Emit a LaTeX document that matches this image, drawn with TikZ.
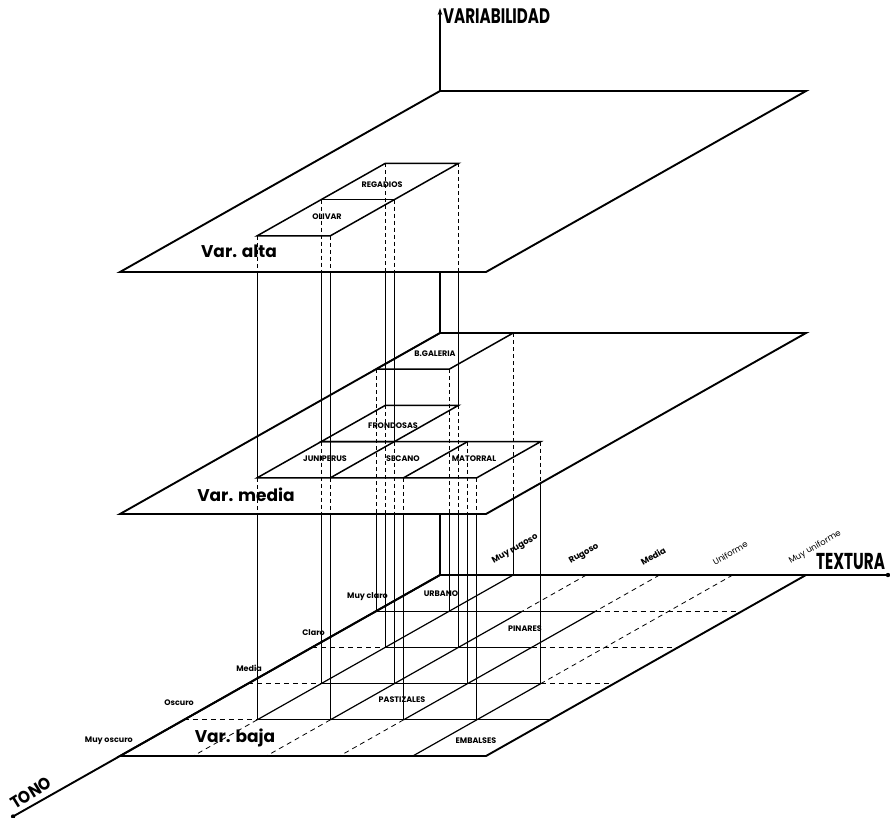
\documentclass[tikz,border=0pt]{standalone}
\usepackage{fontspec}
\usepackage{graphicx}
\setmainfont{Poppins}
\usetikzlibrary{arrows.meta}
\begin{document}
\begin{tikzpicture}[
  x={(73.2pt,0pt)}, y={(-64pt,-36.2pt)}, z={(0pt,242pt)},
  planeline/.style={line width=1.9pt, line join=miter},
  faceline/.style={line width=1.5pt, line join=miter},
  axisline/.style={line width=1.9pt},
  vis/.style={line width=0.75pt},
  hid/.style={line width=0.75pt, dash pattern=on 4pt off 3pt},
  gsolid/.style={line width=1.2pt},
  gdash/.style={line width=0.8pt, dash pattern=on 5pt off 4pt},
  cls/.style={font=\fontsize{8}{9}\selectfont\bfseries, inner sep=0pt},
  tonelbl/.style={font=\fontsize{8}{9}\selectfont\bfseries, inner sep=0pt, anchor=east},
  texlbl/.style={font=\fontsize{8.5}{9}\selectfont, inner sep=0pt, anchor=south west, rotate=30},
  varlbl/.style={font=\fontsize{17}{18}\selectfont\bfseries, inner sep=0pt},
]
\useasboundingbox (-440pt,-242pt) rectangle (450pt,575pt);

% grid coordinates p<level><texture><tone>
\foreach \l in {0,1,2}{\foreach \t in {0,...,5}{\foreach \o in {0,...,5}{\coordinate (p\l\t\o) at (\t,\o,\l);}}}

% planes
\foreach \l in {0,1,2}{\draw[planeline] (p\l00) -- (p\l50) -- (p\l55) -- (p\l05) -- cycle;}

% axes
\coordinate (texend) at (6.12,0,0);
\coordinate (toneend) at (0,6.67,0);
\coordinate (varend) at (0,0,2.343);
\draw[axisline] (p000) -- (texend);
\fill (texend) circle (2.2pt);
\draw[axisline] (p000) -- (toneend);
\fill (toneend) circle (2.2pt);
\coordinate (ax1) at (0,0,0.252);
\coordinate (ax2) at (0,0,1.252);
\draw[axisline] (p000) -- (ax1);
\draw[axisline] (p100) -- (ax2);
\draw[axisline,-{Stealth[length=7pt,width=4.5pt]}] (p200) -- (varend);

% bottom plane grid
\foreach \a/\b in {001/031, 012/032, 013/043, 014/054, 010/014, 021/024, 031/034, 043/045}
  {\draw[gsolid] (p\a) -- (p\b);}
\foreach \a/\b in {031/051, 002/012, 032/052, 003/013, 043/053, 004/014, 014/015, 020/021, 024/025, 030/031, 034/035, 040/043}
  {\draw[gdash] (p\a) -- (p\b);}

% middle plane faces
\draw[faceline] (p100) -- (p110) -- (p111) -- (p101) -- cycle;
\draw[faceline] (p112) -- (p122) -- (p123) -- (p113) -- cycle;
\draw[faceline] (p113) -- (p143) -- (p144) -- (p114) -- cycle;
\draw[faceline] (p123) -- (p124);
\draw[faceline] (p133) -- (p134);

% top plane faces
\draw[faceline] (p212) -- (p222) -- (p224) -- (p214) -- cycle;
\draw[faceline] (p213) -- (p223);

% verticals from top plane
\foreach \t/\o in {1/2,2/2,1/3,2/3,1/4,2/4}{
  \coordinate (ta\t\o) at (\t,\o,{2-(5-\o)*0.1496});
  \coordinate (tb\t\o) at (\t,\o,{1-(5-\o)*0.1496});
  \draw[hid] (p2\t\o) -- (ta\t\o);
  \draw[vis] (ta\t\o) -- (p1\t\o);
  \draw[hid] (p1\t\o) -- (tb\t\o);
  \draw[vis] (tb\t\o) -- (p0\t\o);
}
% verticals from middle plane
\foreach \t/\o/\e in {0/1/0.4016, 1/1/0.4016, 3/3/0.7008, 3/4/0.8504, 4/4/0.8504, 1/0/0.3156, 4/3/0.8289}{
  \coordinate (mb\t\o) at (\t,\o,\e);
  \draw[hid] (p1\t\o) -- (mb\t\o);
  \draw[vis] (mb\t\o) -- (p0\t\o);
}

% labels (pixel coordinates)
\begin{scope}[shift={(-440pt,575pt)}, x=1pt, y=-1pt]
  \node[anchor=west, inner sep=0pt] (lvar) at (443,16) {\scalebox{0.72}[1]{\fontsize{21}{21}\selectfont\bfseries VARIABILIDAD}};
  \node[anchor=west, inner sep=0pt] (ltex) at (816,562) {\scalebox{0.66}[1]{\fontsize{23}{23}\selectfont\bfseries TEXTURA}};
  \node[rotate=32, inner sep=0pt] (ltono) at (31,793) {\scalebox{0.9}[1]{\fontsize{17}{17}\selectfont\bfseries TONO}};

  \node[varlbl] (lalta) at (239,251) {Var. alta};
  \node[varlbl] (lmedia) at (246,495) {Var. media};
  \node[varlbl] (lbaja) at (235,738) {Var. baja};

  \node[cls] (lreg) at (382,185) {REGADIOS};
  \node[cls] (loli) at (327,217) {OLIVAR};
  \node[cls] (lgal) at (435,354) {B.GALERIA};
  \node[cls] (lfro) at (393,426) {FRONDOSAS};
  \node[cls] (ljun) at (325,459) {JUNIPERUS};
  \node[cls] (lsec) at (403,459) {SECANO};
  \node[cls] (lmat) at (474,459) {MATORRAL};
  \node[cls] (lurb) at (441,594) {URBANO};
  \node[cls] (lpin) at (525,629) {PINARES};
  \node[cls] (lpas) at (402,700) {PASTIZALES};
  \node[cls] (lemb) at (476,741) {EMBALSES};

  \node[tonelbl] (lt1) at (388,597) {Muy claro};
  \node[tonelbl] (lt2) at (325,633) {Claro};
  \node[tonelbl] (lt3) at (262,668) {Media};
  \node[tonelbl] (lt4) at (194,703) {Oscuro};
  \node[tonelbl] (lt5) at (133,741) {Muy oscuro};

  \node[texlbl, font=\fontsize{8.5}{9}\selectfont\bfseries] (lx1) at (495,566) {Muy rugoso};
  \node[texlbl, font=\fontsize{8.5}{9}\selectfont\bfseries] (lx2) at (572,566) {Rugoso};
  \node[texlbl, font=\fontsize{8.5}{9}\selectfont\bfseries] (lx3) at (643,566) {Media};
  \node[texlbl] (lx4) at (715,566) {Uniforme};
  \node[texlbl] (lx5) at (792,566) {Muy uniforme};
\end{scope}
\end{tikzpicture}
\end{document}
